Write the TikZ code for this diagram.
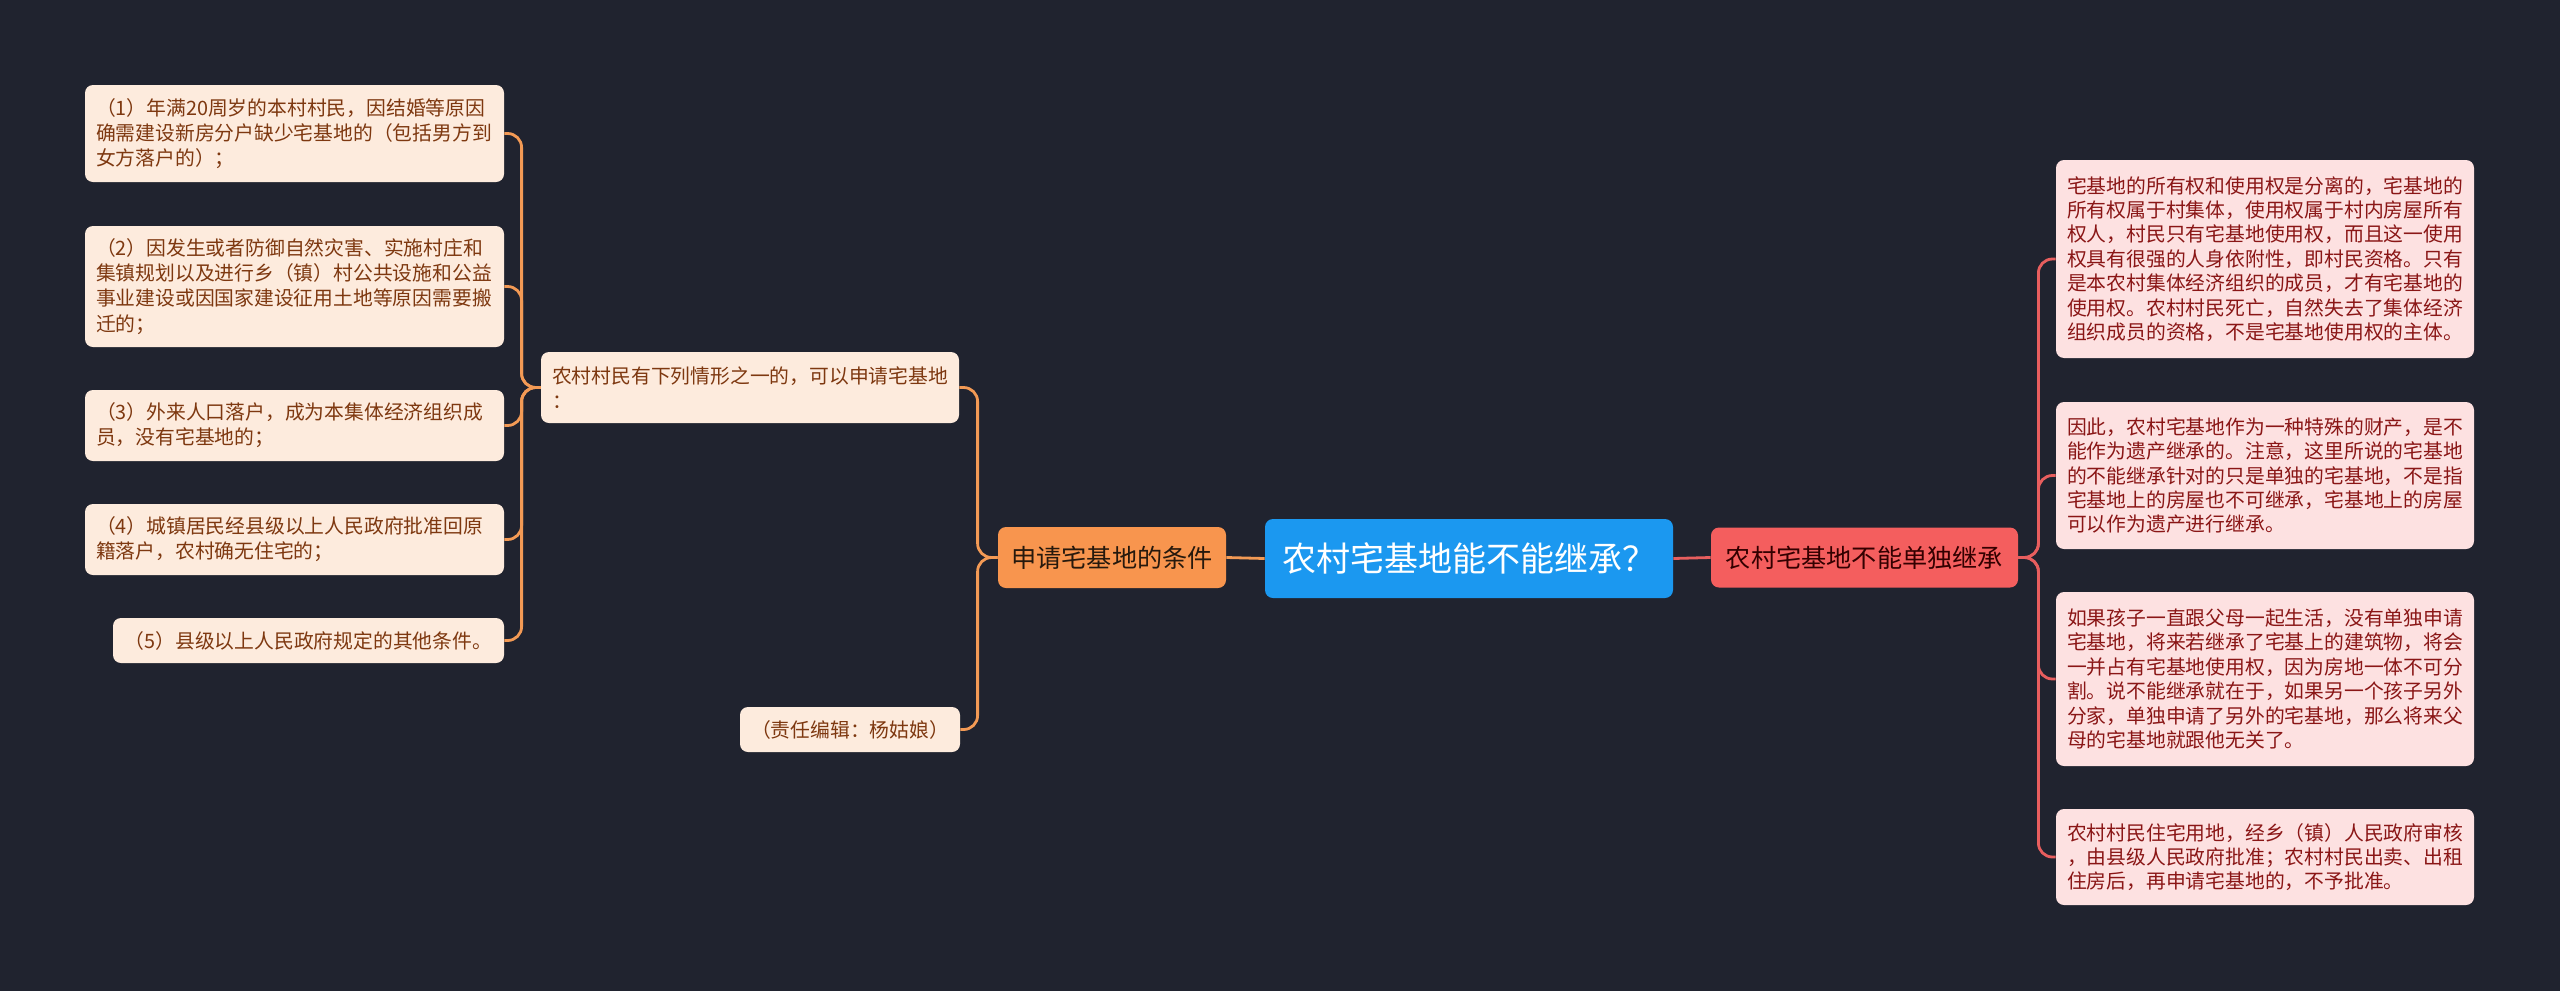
\documentclass[tikz,border=0pt]{standalone}
\usepackage{fontspec}
\setmainfont{Noto Sans CJK SC}
\definecolor{bgdark}{HTML}{20232F}
\definecolor{rootblue}{HTML}{1B98F0}
\definecolor{applyorange}{HTML}{F8954E}
\definecolor{inheritred}{HTML}{F45E5E}
\definecolor{leftfill}{HTML}{FDEBDD}
\definecolor{lefttext}{HTML}{7E3810}
\definecolor{rightfill}{HTML}{FDE1E1}
\definecolor{righttext}{HTML}{8A1616}
\definecolor{orangeline}{HTML}{F39A55}
\definecolor{redline}{HTML}{E85E5E}
\tikzset{
  leftitem/.style={fill=leftfill, text=lefttext, rounded corners=4pt, align=left,
    inner xsep=5.5pt, inner ysep=0pt, font=\fontsize{9.9}{12.6}\selectfont},
  rightitem/.style={fill=rightfill, text=righttext, rounded corners=4pt, align=left,
    inner xsep=5.5pt, inner ysep=0pt, text width=198pt, font=\fontsize{9.9}{12.2}\selectfont},
  orangelink/.style={draw=orangeline, line width=1.4pt, rounded corners=7pt},
  redlink/.style={draw=redline, line width=1.4pt, rounded corners=7pt}
}

\begin{document}
\begin{tikzpicture}[x=0.5pt,y=-0.5pt]
% ---- background ----
\fill[bgdark] (0,0) rectangle (2560,991);
\useasboundingbox (0,0) rectangle (2560,991);
% ---- centre and the two main branches ----
\node[fill=rootblue, text=white, rounded corners=4pt, minimum width=204pt, minimum height=39.5pt,
      inner sep=0pt, font=\fontsize{17}{20}\selectfont] (root) at (1469,558.5) {农村宅基地能不能继承？};
\node[fill=applyorange, text=black!80!brown, rounded corners=4pt, minimum width=114pt, minimum height=30.5pt,
      inner sep=0pt, font=\fontsize{12.6}{15}\selectfont] (apply) at (1112,557.5) {申请宅基地的条件};
\node[fill=inheritred, text=black!80!red, rounded corners=4pt, minimum width=153.5pt, minimum height=30pt,
      inner sep=0pt, font=\fontsize{12.6}{15}\selectfont] (inherit) at (1864.5,557.5) {农村宅基地不能单独继承};
\draw[orangelink] (root.west) -- (apply.east);
\draw[redlink] (root.east) -- (inherit.west);
% ---- left: conditions ----
\node[leftitem, text width=198pt, minimum height=35.5pt] (cond) at (750,387.5)
  {农村村民有下列情形之一的，可以申请宅基地\\：};
\node[leftitem, align=center, minimum width=109pt, minimum height=22.5pt] (editor) at (850,729.5)
  {（责任编辑：杨姑娘）};
\draw[orangelink] (apply.west) -- ++(-20,0) |- (cond.east);
\draw[orangelink] (apply.west) -- ++(-20,0) |- (editor.east);
\foreach \n/\y/\h/\t in {
  1/133.5/48.5/{（1）年满20周岁的本村村民，因结婚等原因\\确需建设新房分户缺少宅基地的（包括男方到\\女方落户的）；},
  2/286.5/60.5/{（2）因发生或者防御自然灾害、实施村庄和\\集镇规划以及进行乡（镇）村公共设施和公益\\事业建设或因国家建设征用土地等原因需要搬\\迁的；},
  3/425.5/35.5/{（3）外来人口落户，成为本集体经济组织成\\员，没有宅基地的；},
  4/539.5/35.5/{（4）城镇居民经县级以上人民政府批准回原\\籍落户，农村确无住宅的；}%
}{
  \node[leftitem, text width=198.5pt, minimum height=\h pt] (l\n) at (294.5,\y) {\t};
  \draw[orangelink] (cond.west) -- ++(-19,0) |- (l\n.east);
}
\node[leftitem, align=center, minimum width=195.5pt, minimum height=22.5pt] (l5) at (308.5,640.5)
  {（5）县级以上人民政府规定的其他条件。};
\draw[orangelink] (cond.west) -- ++(-19,0) |- (l5.east);
% ---- right: why it cannot be inherited alone ----
\foreach \n/\y/\h/\t in {
  1/259/99/{宅基地的所有权和使用权是分离的，宅基地的\\所有权属于村集体，使用权属于村内房屋所有\\权人，村民只有宅基地使用权，而且这一使用\\权具有很强的人身依附性，即村民资格。只有\\是本农村集体经济组织的成员，才有宅基地的\\使用权。农村村民死亡，自然失去了集体经济\\组织成员的资格，不是宅基地使用权的主体。},
  2/475.5/73.5/{因此，农村宅基地作为一种特殊的财产，是不\\能作为遗产继承的。注意，这里所说的宅基地\\的不能继承针对的只是单独的宅基地，不是指\\宅基地上的房屋也不可继承，宅基地上的房屋\\可以作为遗产进行继承。},
  3/679/87/{如果孩子一直跟父母一起生活，没有单独申请\\宅基地，将来若继承了宅基上的建筑物，将会\\一并占有宅基地使用权，因为房地一体不可分\\割。说不能继承就在于，如果另一个孩子另外\\分家，单独申请了另外的宅基地，那么将来父\\母的宅基地就跟他无关了。},
  4/857/48/{农村村民住宅用地，经乡（镇）人民政府审核\\，由县级人民政府批准；农村村民出卖、出租\\住房后，再申请宅基地的，不予批准。}%
}{
  \node[rightitem, minimum height=\h pt] (r\n) at (2265,\y) {\t};
  \draw[redlink] (inherit.east) -- ++(20,0) |- (r\n.west);
}
\end{tikzpicture}
\end{document}
